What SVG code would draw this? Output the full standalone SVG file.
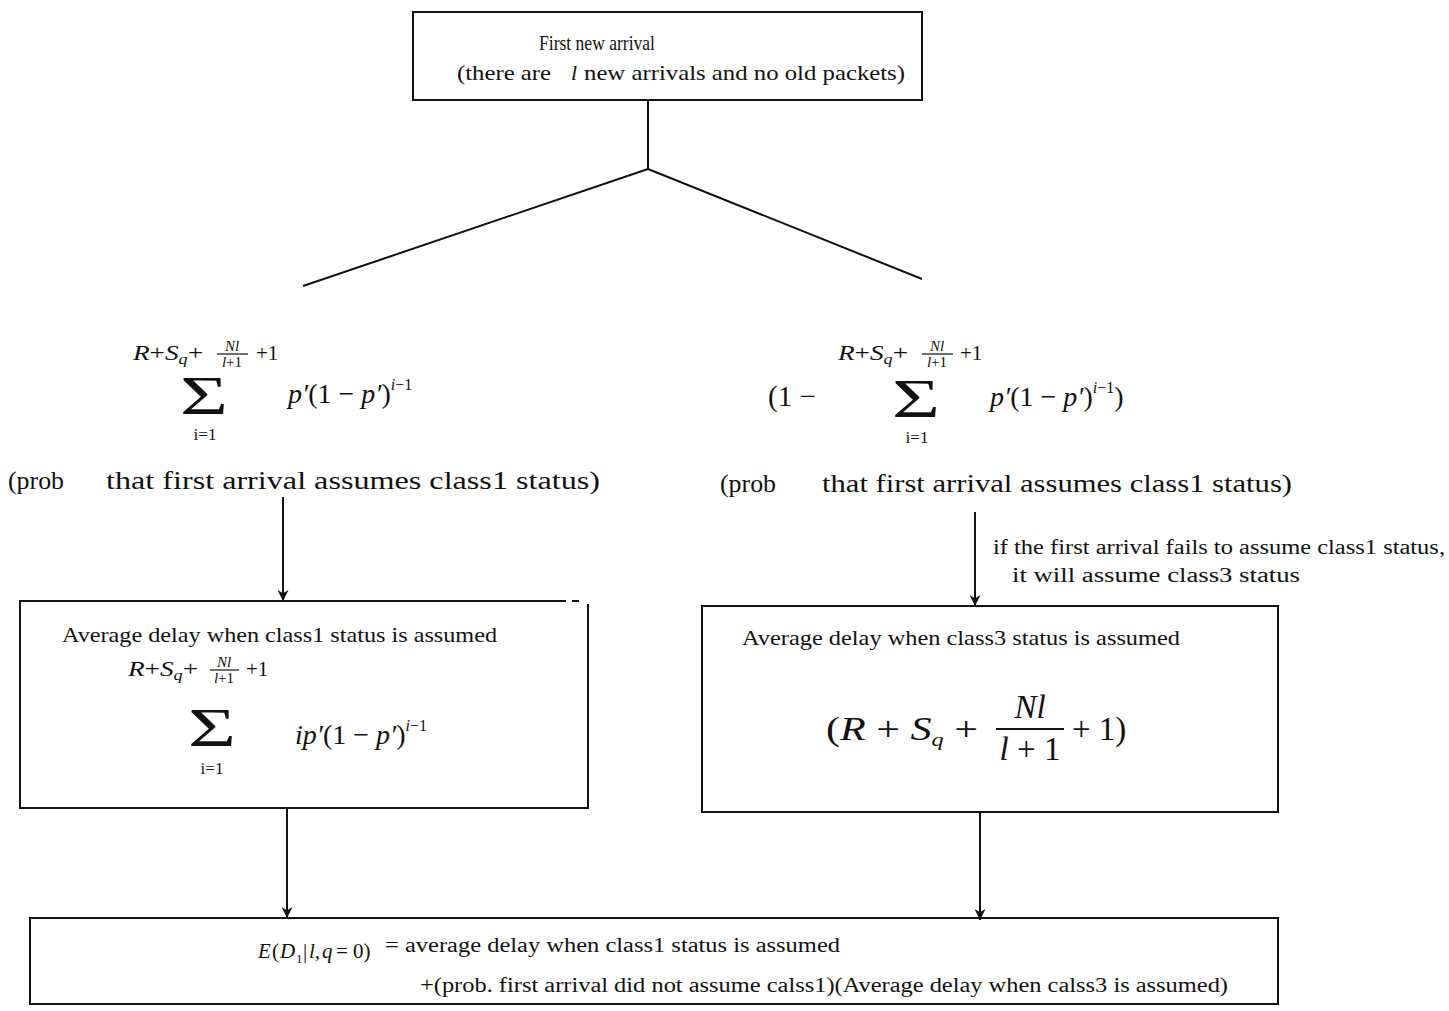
<svg xmlns="http://www.w3.org/2000/svg" width="1449" height="1011" viewBox="0 0 1449 1011">
<defs>
<marker id="ah" viewBox="0 0 10 10" refX="10" refY="5" markerWidth="11" markerHeight="11" markerUnits="userSpaceOnUse" orient="auto">
<path d="M0,0 L10,5 L0,10 L3,5 Z" fill="#111"/>
</marker>
<style>
.box{fill:none;stroke:#111;stroke-width:2}
.ln{fill:none;stroke:#111;stroke-width:2}
.t{font-family:"Liberation Serif","Times New Roman",serif;fill:#111}
.m{font-family:"Liberation Serif","Times New Roman",serif;fill:#111;font-style:italic}
.r{font-family:"Liberation Serif","Times New Roman",serif;fill:#111}
.bar{stroke:#111;stroke-width:1.2}
</style>
</defs>
<rect width="1449" height="1011" fill="#fff"/>

<g id="connectors">
<line class="ln" x1="648" y1="100" x2="648" y2="169"/>
<line class="ln" x1="648" y1="169" x2="303" y2="286"/>
<line class="ln" x1="648" y1="169" x2="922" y2="279"/>
<line class="ln" x1="283" y1="497" x2="283" y2="601" marker-end="url(#ah)"/>
<line class="ln" x1="975" y1="512" x2="975" y2="606" marker-end="url(#ah)"/>
<line class="ln" x1="287" y1="809" x2="287" y2="918" marker-end="url(#ah)"/>
<line class="ln" x1="980" y1="812" x2="980" y2="920" marker-end="url(#ah)"/>
</g>

<g id="node-first-arrival">
<rect class="box" x="413" y="12" width="509" height="88"/>
<text class="t" x="539" y="50" font-size="22" textLength="116" lengthAdjust="spacingAndGlyphs">First new arrival</text>
<text class="t" x="457" y="80" font-size="22" textLength="94" lengthAdjust="spacingAndGlyphs">(there are</text>
<text class="m" x="571" y="80" font-size="22">l</text>
<text class="t" x="584" y="80" font-size="22" textLength="321" lengthAdjust="spacingAndGlyphs">new arrivals and no old packets)</text>
</g>

<g id="node-prob-class1">
<text class="m" x="133" y="360" font-size="21" textLength="70" lengthAdjust="spacingAndGlyphs">R<tspan font-style="normal">+</tspan>S<tspan font-size="14" dy="4">q</tspan><tspan font-style="normal" dy="-4">+</tspan></text>
<text class="m" x="232" y="351" font-size="15" text-anchor="middle">Nl</text>
<line class="bar" x1="217" y1="354" x2="248" y2="354"/>
<text class="m" x="232" y="367" font-size="15" text-anchor="middle">l<tspan font-style="normal">+1</tspan></text>
<text class="r" x="256" y="360" font-size="21">+1</text>
<text class="r" x="180" y="414" font-size="54" textLength="48" lengthAdjust="spacingAndGlyphs">Σ</text>
<text class="r" x="205" y="440" font-size="17" text-anchor="middle">i=1</text>
<text class="m" x="288" y="403" font-size="28">p′<tspan font-style="normal">(1 − </tspan>p′<tspan font-style="normal">)</tspan><tspan font-size="16" dy="-13">i<tspan font-style="normal">−1</tspan></tspan></text>
<text class="t" x="8" y="489" font-size="25" textLength="56" lengthAdjust="spacingAndGlyphs">(prob</text>
<text class="t" x="106" y="489" font-size="25" textLength="494" lengthAdjust="spacingAndGlyphs">that first arrival assumes class1 status)</text>
</g>

<g id="node-prob-not-class1">
<text class="r" x="768" y="406" font-size="29">(1 −</text>
<text class="m" x="838" y="360" font-size="21" textLength="70" lengthAdjust="spacingAndGlyphs">R<tspan font-style="normal">+</tspan>S<tspan font-size="14" dy="4">q</tspan><tspan font-style="normal" dy="-4">+</tspan></text>
<text class="m" x="937" y="351" font-size="15" text-anchor="middle">Nl</text>
<line class="bar" x1="922" y1="354" x2="953" y2="354"/>
<text class="m" x="937" y="367" font-size="15" text-anchor="middle">l<tspan font-style="normal">+1</tspan></text>
<text class="r" x="960" y="360" font-size="21">+1</text>
<text class="r" x="892" y="417" font-size="54" textLength="48" lengthAdjust="spacingAndGlyphs">Σ</text>
<text class="r" x="917" y="443" font-size="17" text-anchor="middle">i=1</text>
<text class="m" x="990" y="406" font-size="28">p′<tspan font-style="normal">(1 − </tspan>p′<tspan font-style="normal">)</tspan><tspan font-size="16" dy="-13">i<tspan font-style="normal">−1</tspan></tspan><tspan font-style="normal" dy="13">)</tspan></text>
<text class="t" x="720" y="492" font-size="25" textLength="56" lengthAdjust="spacingAndGlyphs">(prob</text>
<text class="t" x="822" y="492" font-size="25" textLength="470" lengthAdjust="spacingAndGlyphs">that first arrival assumes class1 status)</text>
</g>

<g id="label-fails">
<text class="t" x="993" y="554" font-size="20" textLength="452" lengthAdjust="spacingAndGlyphs">if the first arrival fails to assume class1 status,</text>
<text class="t" x="1012" y="582" font-size="20" textLength="288" lengthAdjust="spacingAndGlyphs">it will assume class3 status</text>
</g>

<g id="node-class1-delay">
<path class="box" d="M566,601 L20,601 L20,808 L588,808 L588,604 M572,601 L579,601"/>
<text class="t" x="62" y="642" font-size="21" textLength="435" lengthAdjust="spacingAndGlyphs">Average delay when class1 status is assumed</text>
<text class="m" x="128" y="676" font-size="21" textLength="70" lengthAdjust="spacingAndGlyphs">R<tspan font-style="normal">+</tspan>S<tspan font-size="14" dy="4">q</tspan><tspan font-style="normal" dy="-4">+</tspan></text>
<text class="m" x="224" y="667" font-size="15" text-anchor="middle">Nl</text>
<line class="bar" x1="210" y1="670" x2="239" y2="670"/>
<text class="m" x="224" y="683" font-size="15" text-anchor="middle">l<tspan font-style="normal">+1</tspan></text>
<text class="r" x="246" y="676" font-size="21">+1</text>
<text class="r" x="188" y="746" font-size="54" textLength="48" lengthAdjust="spacingAndGlyphs">Σ</text>
<text class="r" x="212" y="774" font-size="17" text-anchor="middle">i=1</text>
<text class="m" x="295" y="744" font-size="28">ip′<tspan font-style="normal">(1 − </tspan>p′<tspan font-style="normal">)</tspan><tspan font-size="16" dy="-13">i<tspan font-style="normal">−1</tspan></tspan></text>
</g>

<g id="node-class3-delay">
<rect class="box" x="702" y="606" width="576" height="206"/>
<text class="t" x="742" y="645" font-size="21" textLength="438" lengthAdjust="spacingAndGlyphs">Average delay when class3 status is assumed</text>
<text class="r" x="826" y="740" font-size="33" textLength="152" lengthAdjust="spacingAndGlyphs">(<tspan font-style="italic">R</tspan> + <tspan font-style="italic">S</tspan><tspan font-size="19" font-style="italic" dy="6">q</tspan><tspan dy="-6"> +</tspan></text>
<text class="m" x="1030" y="718" font-size="33" text-anchor="middle">Nl</text>
<line x1="996" y1="729" x2="1064" y2="729" stroke="#111" stroke-width="1.8"/>
<text class="m" x="1030" y="760" font-size="33" text-anchor="middle">l<tspan font-style="normal"> + 1</tspan></text>
<text class="r" x="1072" y="740" font-size="33">+ 1)</text>
</g>

<g id="node-expected-delay">
<rect class="box" x="30" y="918" width="1248" height="86"/>
<text class="m" x="258" y="958" font-size="21">E</text>
<text class="r" x="272" y="958" font-size="21">(</text>
<text class="m" x="280" y="958" font-size="21">D</text>
<text class="r" x="296" y="963" font-size="13">1</text>
<text class="r" x="303" y="958" font-size="21">|</text>
<text class="m" x="309" y="958" font-size="21">l,</text>
<text class="m" x="322" y="958" font-size="21">q</text>
<text class="r" x="336" y="958" font-size="21">= 0)</text>
<text class="t" x="385" y="952" font-size="20" textLength="455" lengthAdjust="spacingAndGlyphs">= average delay when class1 status is assumed</text>
<text class="t" x="420" y="992" font-size="20" textLength="808" lengthAdjust="spacingAndGlyphs">+(prob. first arrival did not assume calss1)(Average delay when calss3 is assumed)</text>
</g>
</svg>
